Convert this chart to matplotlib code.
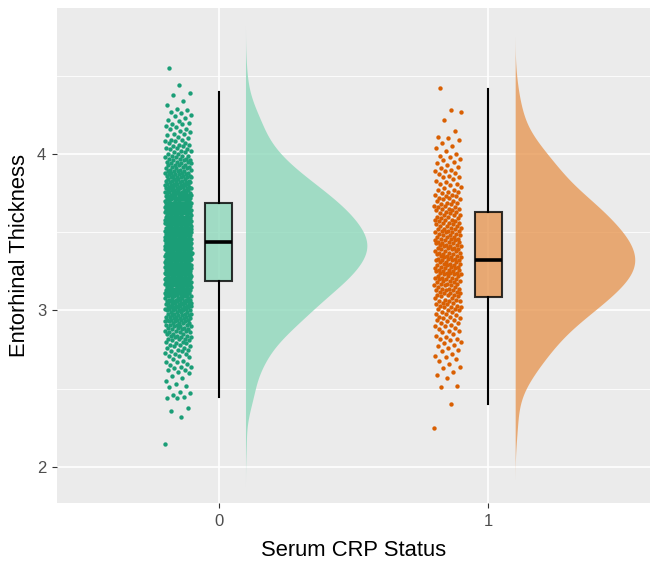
import numpy as np
import matplotlib
matplotlib.use('Agg')
import matplotlib.pyplot as plt

plt.rcParams['font.family'] = ['Liberation Sans', 'DejaVu Sans']

# groups on the x axis
grupos = ['0', '1']

grosor_0 = [
    2.15, 2.32, 2.36, 2.38, 2.44, 2.44, 2.45, 2.46, 2.47, 2.48, 2.51, 2.52, 2.53, 2.55, 2.57, 2.58, 2.60,
    2.61, 2.62, 2.62, 2.63, 2.64, 2.64, 2.65, 2.66, 2.67, 2.67, 2.68, 2.69,
    2.70, 2.71, 2.71, 2.72, 2.72, 2.73, 2.74, 2.74, 2.75, 2.75, 2.76, 2.76, 2.77, 2.77, 2.78, 2.78, 2.79, 2.79,
    2.80, 2.80, 2.81, 2.81, 2.82, 2.82, 2.82, 2.83, 2.83, 2.83, 2.84, 2.84, 2.84, 2.85, 2.85, 2.85,
    2.86, 2.86, 2.86, 2.87, 2.87, 2.87, 2.88, 2.88, 2.88, 2.89, 2.89, 2.89,
    2.90, 2.90, 2.90, 2.91, 2.91, 2.91, 2.91, 2.92, 2.92, 2.92, 2.92, 2.93, 2.93, 2.93, 2.93,
    2.94, 2.94, 2.94, 2.94, 2.94, 2.95, 2.95, 2.95, 2.95, 2.96, 2.96, 2.96, 2.96,
    2.97, 2.97, 2.97, 2.97, 2.98, 2.98, 2.98, 2.98, 2.99, 2.99, 2.99, 2.99,
    3.00, 3.00, 3.00, 3.00, 3.00, 3.01, 3.01, 3.01, 3.01, 3.01, 3.02, 3.02, 3.02, 3.02, 3.02, 3.02,
    3.03, 3.03, 3.03, 3.03, 3.03, 3.04, 3.04, 3.04, 3.04, 3.04, 3.05, 3.05, 3.05, 3.05, 3.05,
    3.06, 3.06, 3.06, 3.06, 3.06, 3.06, 3.07, 3.07, 3.07, 3.07, 3.07, 3.08, 3.08, 3.08, 3.08, 3.08,
    3.09, 3.09, 3.09, 3.09, 3.09,
    3.10, 3.10, 3.10, 3.10, 3.10, 3.10, 3.11, 3.11, 3.11, 3.11, 3.11, 3.11, 3.11,
    3.12, 3.12, 3.12, 3.12, 3.12, 3.12, 3.13, 3.13, 3.13, 3.13, 3.13, 3.13, 3.13,
    3.14, 3.14, 3.14, 3.14, 3.14, 3.14, 3.15, 3.15, 3.15, 3.15, 3.15, 3.15, 3.15,
    3.16, 3.16, 3.16, 3.16, 3.16, 3.16, 3.17, 3.17, 3.17, 3.17, 3.17, 3.17, 3.17,
    3.18, 3.18, 3.18, 3.18, 3.18, 3.18, 3.18, 3.19, 3.19, 3.19, 3.19, 3.19, 3.19, 3.19,
    3.20, 3.20, 3.20, 3.20, 3.20, 3.20, 3.20, 3.20, 3.21, 3.21, 3.21, 3.21, 3.21, 3.21, 3.21,
    3.22, 3.22, 3.22, 3.22, 3.22, 3.22, 3.22, 3.22, 3.23, 3.23, 3.23, 3.23, 3.23, 3.23, 3.23, 3.23,
    3.24, 3.24, 3.24, 3.24, 3.24, 3.24, 3.24, 3.25, 3.25, 3.25, 3.25, 3.25, 3.25, 3.25, 3.25,
    3.26, 3.26, 3.26, 3.26, 3.26, 3.26, 3.26, 3.26, 3.27, 3.27, 3.27, 3.27, 3.27, 3.27, 3.27, 3.27,
    3.28, 3.28, 3.28, 3.28, 3.28, 3.28, 3.28, 3.28, 3.29, 3.29, 3.29, 3.29, 3.29, 3.29, 3.29, 3.29,
    3.30, 3.30, 3.30, 3.30, 3.30, 3.30, 3.30, 3.30, 3.31, 3.31, 3.31, 3.31, 3.31, 3.31, 3.31, 3.31, 3.31,
    3.32, 3.32, 3.32, 3.32, 3.32, 3.32, 3.32, 3.32, 3.33, 3.33, 3.33, 3.33, 3.33, 3.33, 3.33, 3.33, 3.33,
    3.34, 3.34, 3.34, 3.34, 3.34, 3.34, 3.34, 3.34, 3.35, 3.35, 3.35, 3.35, 3.35, 3.35, 3.35, 3.35, 3.35,
    3.36, 3.36, 3.36, 3.36, 3.36, 3.36, 3.36, 3.36, 3.37, 3.37, 3.37, 3.37, 3.37, 3.37, 3.37, 3.37, 3.37,
    3.38, 3.38, 3.38, 3.38, 3.38, 3.38, 3.38, 3.38, 3.38, 3.39, 3.39, 3.39, 3.39, 3.39, 3.39, 3.39, 3.39, 3.39,
    3.40, 3.40, 3.40, 3.40, 3.40, 3.40, 3.40, 3.40, 3.40, 3.41, 3.41, 3.41, 3.41, 3.41, 3.41, 3.41, 3.41, 3.41,
    3.42, 3.42, 3.42, 3.42, 3.42, 3.42, 3.42, 3.42, 3.42, 3.43, 3.43, 3.43, 3.43, 3.43, 3.43, 3.43, 3.43, 3.43,
    3.44, 3.44, 3.44, 3.44, 3.44, 3.44, 3.44, 3.44, 3.45, 3.45, 3.45, 3.45, 3.45, 3.45, 3.45, 3.45, 3.45,
    3.46, 3.46, 3.46, 3.46, 3.46, 3.46, 3.46, 3.46, 3.46, 3.47, 3.47, 3.47, 3.47, 3.47, 3.47, 3.47, 3.47, 3.47,
    3.48, 3.48, 3.48, 3.48, 3.48, 3.48, 3.48, 3.48, 3.48, 3.49, 3.49, 3.49, 3.49, 3.49, 3.49, 3.49, 3.49,
    3.50, 3.50, 3.50, 3.50, 3.50, 3.50, 3.50, 3.50, 3.50, 3.51, 3.51, 3.51, 3.51, 3.51, 3.51, 3.51, 3.51,
    3.52, 3.52, 3.52, 3.52, 3.52, 3.52, 3.52, 3.52, 3.53, 3.53, 3.53, 3.53, 3.53, 3.53, 3.53, 3.53,
    3.54, 3.54, 3.54, 3.54, 3.54, 3.54, 3.54, 3.54, 3.55, 3.55, 3.55, 3.55, 3.55, 3.55, 3.55, 3.55,
    3.56, 3.56, 3.56, 3.56, 3.56, 3.56, 3.56, 3.56, 3.57, 3.57, 3.57, 3.57, 3.57, 3.57, 3.57, 3.57,
    3.58, 3.58, 3.58, 3.58, 3.58, 3.58, 3.58, 3.58, 3.58, 3.59, 3.59, 3.59, 3.59, 3.59, 3.59, 3.59, 3.59,
    3.60, 3.60, 3.60, 3.60, 3.60, 3.60, 3.60, 3.60, 3.61, 3.61, 3.61, 3.61, 3.61, 3.61, 3.61,
    3.62, 3.62, 3.62, 3.62, 3.62, 3.62, 3.62, 3.63, 3.63, 3.63, 3.63, 3.63, 3.63, 3.63,
    3.64, 3.64, 3.64, 3.64, 3.64, 3.64, 3.64, 3.65, 3.65, 3.65, 3.65, 3.65, 3.65, 3.65,
    3.66, 3.66, 3.66, 3.66, 3.66, 3.66, 3.66, 3.67, 3.67, 3.67, 3.67, 3.67, 3.67, 3.67,
    3.68, 3.68, 3.68, 3.68, 3.68, 3.68, 3.68, 3.69, 3.69, 3.69, 3.69, 3.69, 3.69, 3.69, 3.69,
    3.70, 3.70, 3.70, 3.70, 3.70, 3.70, 3.71, 3.71, 3.71, 3.71, 3.71, 3.71, 3.72, 3.72, 3.72, 3.72, 3.72, 3.72,
    3.73, 3.73, 3.73, 3.73, 3.73, 3.73, 3.74, 3.74, 3.74, 3.74, 3.74, 3.74, 3.75, 3.75, 3.75, 3.75, 3.75, 3.75,
    3.76, 3.76, 3.76, 3.76, 3.76, 3.77, 3.77, 3.77, 3.77, 3.77, 3.77, 3.78, 3.78, 3.78, 3.78, 3.78, 3.78,
    3.79, 3.79, 3.79, 3.79, 3.79,
    3.80, 3.80, 3.80, 3.80, 3.80, 3.81, 3.81, 3.81, 3.81, 3.81, 3.82, 3.82, 3.82, 3.82,
    3.83, 3.83, 3.83, 3.83, 3.83, 3.84, 3.84, 3.84, 3.84, 3.85, 3.85, 3.85, 3.85, 3.85,
    3.86, 3.86, 3.86, 3.86, 3.87, 3.87, 3.87, 3.87, 3.88, 3.88, 3.88, 3.88, 3.89, 3.89, 3.89, 3.89,
    3.90, 3.90, 3.90, 3.91, 3.91, 3.91, 3.92, 3.92, 3.92, 3.93, 3.93, 3.93, 3.93, 3.94, 3.94, 3.94,
    3.95, 3.95, 3.95, 3.96, 3.96, 3.96, 3.97, 3.97, 3.97, 3.98, 3.98, 3.99, 3.99, 3.99,
    4.00, 4.00, 4.01, 4.01, 4.02, 4.02, 4.03, 4.03, 4.04, 4.04, 4.05, 4.05, 4.06, 4.06, 4.07, 4.07,
    4.08, 4.08, 4.09, 4.09,
    4.10, 4.11, 4.12, 4.13, 4.13, 4.14, 4.15, 4.16, 4.16, 4.17, 4.18, 4.19, 4.19,
    4.20, 4.21, 4.22, 4.23, 4.24, 4.25, 4.26, 4.27, 4.28, 4.29,
    4.31, 4.34, 4.38, 4.39, 4.44, 4.55,
]

# entorhinal thickness, CRP status 1
grosor_1 = [
    2.25, 2.40, 2.51, 2.52, 2.57, 2.59,
    2.61, 2.63, 2.64, 2.66, 2.68, 2.69,
    2.70, 2.71, 2.72, 2.74, 2.75, 2.76, 2.77, 2.78, 2.79,
    2.80, 2.81, 2.82, 2.82, 2.83, 2.84, 2.85, 2.86, 2.87, 2.87, 2.88, 2.89,
    2.90, 2.90, 2.91, 2.92, 2.92, 2.93, 2.94, 2.94, 2.95, 2.95, 2.96, 2.96, 2.97, 2.98, 2.98, 2.99, 2.99,
    3.00, 3.00, 3.01, 3.01, 3.02, 3.02, 3.02, 3.03, 3.03, 3.04, 3.04, 3.05, 3.05,
    3.06, 3.06, 3.06, 3.07, 3.07, 3.08, 3.08, 3.09, 3.09,
    3.10, 3.10, 3.10, 3.11, 3.11, 3.11, 3.12, 3.12, 3.13, 3.13, 3.13, 3.14, 3.14, 3.14,
    3.15, 3.15, 3.16, 3.16, 3.16, 3.17, 3.17, 3.17, 3.18, 3.18, 3.19, 3.19, 3.19,
    3.20, 3.20, 3.20, 3.21, 3.21, 3.21, 3.22, 3.22, 3.22, 3.23, 3.23, 3.23, 3.24, 3.24, 3.24, 3.24,
    3.25, 3.25, 3.25, 3.26, 3.26, 3.26, 3.27, 3.27, 3.27, 3.28, 3.28, 3.28, 3.29, 3.29, 3.29,
    3.30, 3.30, 3.30, 3.31, 3.31, 3.31, 3.32, 3.32, 3.32, 3.32, 3.33, 3.33, 3.33, 3.34, 3.34, 3.34,
    3.35, 3.35, 3.35, 3.36, 3.36, 3.36, 3.37, 3.37, 3.37, 3.38, 3.38, 3.38, 3.39, 3.39, 3.39,
    3.40, 3.40, 3.40, 3.41, 3.41, 3.41, 3.42, 3.42, 3.42, 3.43, 3.43, 3.43, 3.44, 3.44, 3.44,
    3.45, 3.45, 3.45, 3.46, 3.46, 3.46, 3.47, 3.47, 3.47, 3.48, 3.48, 3.48, 3.49, 3.49,
    3.50, 3.50, 3.50, 3.51, 3.51, 3.51, 3.52, 3.52, 3.52, 3.53, 3.53, 3.54, 3.54, 3.54,
    3.55, 3.55, 3.56, 3.56, 3.56, 3.57, 3.57, 3.58, 3.58, 3.58, 3.59, 3.59,
    3.60, 3.60, 3.61, 3.61, 3.61, 3.62, 3.62, 3.63, 3.63, 3.64, 3.64,
    3.65, 3.65, 3.65, 3.66, 3.66, 3.67, 3.67, 3.68, 3.68, 3.69, 3.69,
    3.70, 3.70, 3.71, 3.71, 3.72, 3.72, 3.73, 3.73, 3.74, 3.74, 3.75, 3.76, 3.76, 3.77, 3.77, 3.78, 3.79,
    3.80, 3.81, 3.81, 3.82, 3.83, 3.84, 3.85, 3.85, 3.86, 3.87, 3.88, 3.89, 3.89,
    3.90, 3.91, 3.92, 3.93, 3.94, 3.95, 3.96, 3.97, 3.98, 3.99,
    4.00, 4.02, 4.04, 4.05, 4.07, 4.09, 4.10, 4.11, 4.15, 4.22, 4.27, 4.28, 4.42,
]

# boxplot statistics (median, hinges, whisker ends)
medianas = [3.436, 3.322]
cuartil_inf = [3.190, 3.085]
cuartil_sup = [3.684, 3.630]
bigote_inf = [2.450, 2.400]
bigote_sup = [4.396, 4.418]

color_punto = ['#1B9E77', '#D95F02']
color_relleno = ['#8DD8BB', '#E79855']

datos = [np.array(grosor_0), np.array(grosor_1)]


def densidad(v):
    # gaussian kde, bandwidth like R's nrd0, not trimmed
    n = len(v)
    iqr = np.percentile(v, 75) - np.percentile(v, 25)
    bw = 0.9 * min(v.std(ddof=1), iqr / 1.34) * n ** -0.2
    y = np.linspace(v.min() - 3 * bw, v.max() + 3 * bw, 512)
    d = np.exp(-0.5 * ((y[:, None] - v[None, :]) / bw) ** 2).sum(axis=1)
    return y, d / (n * bw * np.sqrt(2 * np.pi))


fig = plt.figure(figsize=(6.51, 5.62), dpi=100)
ax = fig.add_axes([0.0871, 0.105, 0.9114, 0.8808])
ax.set_facecolor('#EBEBEB')
for s in ax.spines.values():
    s.set_visible(False)

# grid
ax.set_axisbelow(True)
for y in [2.5, 3.5, 4.5]:
    ax.axhline(y, color='white', lw=0.6, zorder=0)
for y in [2, 3, 4]:
    ax.axhline(y, color='white', lw=1.2, zorder=0)
for x in [0, 1]:
    ax.axvline(x, color='white', lw=1.2, zorder=0)

dens = [densidad(v) for v in datos]
dmax = max(d.max() for _, d in dens)

for i, v in enumerate(datos):
    # half violin
    y, d = dens[i]
    ax.fill_betweenx(y, i + 0.1, i + 0.1 + 0.45 * d / dmax,
                     color=color_relleno[i], alpha=0.8, lw=0, zorder=2)
    # jittered points
    desp = (np.arange(len(v)) * 0.618034) % 1.0 - 0.5
    ax.scatter(i - 0.15 + desp * 0.1, v, s=10, color=color_punto[i], lw=0, zorder=3)

cajas = []
for i in range(len(grupos)):
    cajas.append(dict(med=medianas[i], q1=cuartil_inf[i], q3=cuartil_sup[i],
                      whislo=bigote_inf[i], whishi=bigote_sup[i], fliers=[]))
bp = ax.bxp(cajas, positions=[0, 1], widths=0.1, showfliers=False, showcaps=False,
            patch_artist=True,
            boxprops=dict(edgecolor='black', lw=1.5),
            medianprops=dict(color='black', lw=2.6),
            whiskerprops=dict(color='black', lw=1.5))
for i, caja in enumerate(bp['boxes']):
    caja.set_facecolor(color_relleno[i])
    caja.set_alpha(0.8)
    caja.set_edgecolor('black')
    caja.set_zorder(4)
for l in bp['medians'] + bp['whiskers']:
    l.set_zorder(5)

ax.set_xlim(-0.6, 1.6)
ax.set_ylim(1.77, 4.933)
ax.set_xticks([0, 1])
ax.set_xticklabels(grupos)
ax.set_yticks([2, 3, 4])
ax.tick_params(axis='both', colors='#333333', length=3.6, width=0.8,
               labelsize=12, labelcolor='#4D4D4D', pad=4)
ax.set_xlabel('Serum CRP Status', fontsize=15.8, labelpad=8)
ax.set_ylabel('Entorhinal Thickness', fontsize=15.8, labelpad=5)

plt.savefig('out.png', dpi=100)
plt.close()
